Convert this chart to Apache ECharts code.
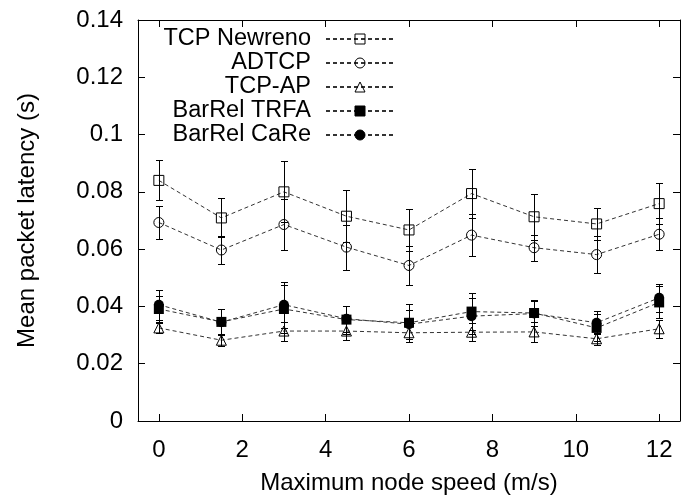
<!DOCTYPE html>
<html><head><meta charset="utf-8">
<script src="https://cdn.jsdelivr.net/npm/echarts@6/dist/echarts.min.js"></script>
<style>html,body{margin:0;padding:0;background:#fff}#c{width:681px;height:500px}</style>
</head><body><div id="c"></div>
<script>
const speeds = [0, 1.5, 3, 4.5, 6, 7.5, 9, 10.5, 12];
const xTicks = [0, 2, 4, 6, 8, 10, 12];
const seriesNames = ['TCP Newreno', 'ADTCP', 'TCP-AP', 'BarRel TRFA', 'BarRel CaRe'];

const newreno    = [0.0840, 0.0709, 0.0800, 0.0715, 0.0667, 0.0794, 0.0713, 0.0688, 0.0759];
const newrenoErr = [0.0070, 0.0068, 0.0106, 0.0091, 0.0073, 0.0087, 0.0081, 0.0057, 0.0072];
const adtcp      = [0.0693, 0.0597, 0.0686, 0.0607, 0.0543, 0.0649, 0.0605, 0.0581, 0.0652];
const adtcpErr   = [0.0057, 0.0049, 0.0089, 0.0079, 0.0067, 0.0072, 0.0045, 0.0065, 0.0055];
const tcpap      = [0.0325, 0.0282, 0.0314, 0.0314, 0.0308, 0.0310, 0.0311, 0.0287, 0.0322];
const tcpapErr   = [0.0017, 0.0021, 0.0033, 0.0032, 0.0031, 0.0031, 0.0034, 0.0020, 0.0031];
const trfa       = [0.0391, 0.0346, 0.0391, 0.0354, 0.0343, 0.0382, 0.0377, 0.0325, 0.0414];
const trfaErr    = [0.0044, 0.0045, 0.0085, 0.0049, 0.0066, 0.0065, 0.0047, 0.0047, 0.0056];
const care       = [0.0406, 0.0345, 0.0406, 0.0357, 0.0338, 0.0366, 0.0375, 0.0343, 0.0430];
const careErr    = [0.0052, 0.0045, 0.0081, 0.0045, 0.0050, 0.0064, 0.0045, 0.0040, 0.0049];

const FONT = '"Liberation Sans", Arial, Helvetica, sans-serif';

function lineData(vals) { return speeds.map((x, i) => [x, vals[i]]); }
function errData(vals, errs) { return speeds.map((x, i) => [x, vals[i] - errs[i], vals[i] + errs[i]]); }

function renderErr(params, api) {
  const x = api.value(0), lo = api.value(1), hi = api.value(2);
  const pLo = api.coord([x, lo]), pHi = api.coord([x, hi]);
  const cx = Math.round(pLo[0]) + 0.5;
  const yl = Math.round(pLo[1]) + 0.5, yh = Math.round(pHi[1]) + 0.5;
  const w = 3.5;
  const st = { stroke: '#000', lineWidth: 1 };
  return { type: 'group', children: [
    { type: 'line', shape: { x1: cx, y1: yl, x2: cx, y2: yh }, style: st },
    { type: 'line', shape: { x1: cx - w, y1: yl, x2: cx + w, y2: yl }, style: st },
    { type: 'line', shape: { x1: cx - w, y1: yh, x2: cx + w, y2: yh }, style: st }
  ]};
}

const defs = [
  { name: seriesNames[0], vals: newreno, errs: newrenoErr, symbol: 'rect', open: true },
  { name: seriesNames[1], vals: adtcp, errs: adtcpErr, symbol: 'circle', open: true },
  { name: seriesNames[2], vals: tcpap, errs: tcpapErr, symbol: 'triangle', open: true },
  { name: seriesNames[3], vals: trfa, errs: trfaErr, symbol: 'rect', open: false },
  { name: seriesNames[4], vals: care, errs: careErr, symbol: 'circle', open: false }
];

const series = [];
defs.forEach(d => {
  series.push({
    type: 'line', name: d.name, data: lineData(d.vals),
    symbol: d.symbol, symbolSize: 10, showAllSymbol: true,
    lineStyle: { color: '#333', width: 1, type: [4, 3] },
    itemStyle: d.open ? { color: 'rgba(0,0,0,0)', borderColor: '#000', borderWidth: 1 }
                      : { color: '#000', borderColor: '#000', borderWidth: 0 },
    emphasis: { disabled: true }, animation: false, z: 3
  });
  series.push({
    type: 'custom', name: d.name + ' err', data: errData(d.vals, d.errs),
    renderItem: renderErr, encode: { x: 0, y: [1, 2] }, animation: false, z: 4, silent: true
  });
});

const axisCommon = {
  axisLine: { show: true, onZero: false, lineStyle: { color: '#000', width: 1 } },
  splitLine: { show: false }
};

const chart = echarts.init(document.getElementById('c'), null, { renderer: 'canvas' });
chart.setOption({
  animation: false,
  backgroundColor: '#fff',
  grid: { left: 138, right: 1, top: 20, bottom: 78, containLabel: false },
  legend: {
    data: seriesNames, orient: 'vertical', align: 'right', right: 286, top: 27,
    padding: 0, itemGap: 0, itemWidth: 68, itemHeight: 12.5, selectedMode: false,
    itemStyle: { borderWidth: 1 },
    textStyle: { fontSize: 23.5, color: '#000', fontFamily: FONT, padding: [0, 10, 0, 0] }
  },
  xAxis: [
    Object.assign({
      type: 'value', min: -0.5, max: 12.5, position: 'bottom',
      axisTick: { show: true, inside: true, length: 7, customValues: xTicks, lineStyle: { color: '#000' } },
      axisLabel: { customValues: xTicks, fontSize: 24, color: '#000', fontFamily: FONT, margin: 17 },
      name: 'Maximum node speed (m/s)', nameLocation: 'middle', nameGap: 50,
      nameTextStyle: { fontSize: 24, color: '#000', fontFamily: FONT }
    }, axisCommon),
    Object.assign({
      type: 'value', min: -0.5, max: 12.5, position: 'top',
      axisTick: { show: true, inside: true, length: 7, customValues: xTicks, lineStyle: { color: '#000' } },
      axisLabel: { show: false }
    }, axisCommon)
  ],
  yAxis: [
    Object.assign({
      type: 'value', min: 0, max: 0.14, interval: 0.02, position: 'left',
      axisTick: { show: true, inside: true, length: 7, lineStyle: { color: '#000' } },
      axisLabel: { fontSize: 24, color: '#000', fontFamily: FONT, margin: 15,
        formatter: v => String(+v.toFixed(2)) },
      name: 'Mean packet latency (s)', nameLocation: 'middle', nameGap: 99, nameRotate: 90,
      nameTextStyle: { fontSize: 24, color: '#000', fontFamily: FONT }
    }, axisCommon),
    Object.assign({
      type: 'value', min: 0, max: 0.14, interval: 0.02, position: 'right',
      axisTick: { show: true, inside: true, length: 7, lineStyle: { color: '#000' } },
      axisLabel: { show: false }
    }, axisCommon)
  ],
  series: series
});
</script>
</body></html>
